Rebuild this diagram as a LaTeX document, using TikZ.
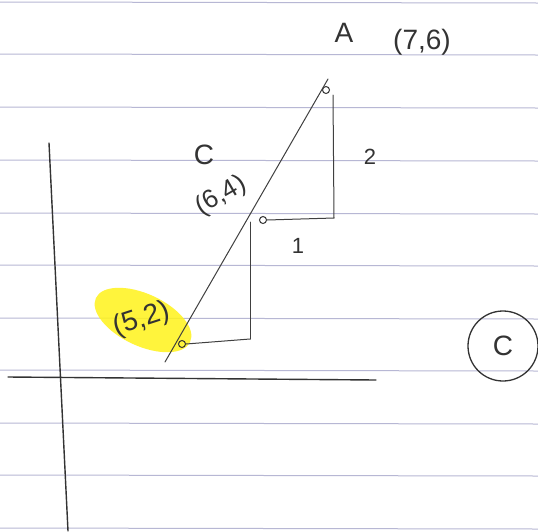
\documentclass[tikz,border=0pt]{standalone}
\usepackage{fontspec}
\setmainfont{Liberation Sans}
\begin{document}
\begin{tikzpicture}[x=1pt,y=-1pt,
  rule/.style={draw=blue!25!gray!45, line width=1pt},
  pen/.style={draw=black!75, line width=1pt, line cap=round},
  axis/.style={draw=black!80, line width=1.4pt, line cap=round},
  dot/.style={circle, draw=black!80, line width=1pt, inner sep=0pt, minimum size=7pt},
  hand/.style={font=\fontsize{28}{30}\selectfont, text=black!80, inner sep=0pt}]
\useasboundingbox (0,0) rectangle (538,531);
\fill[white] (0,0) rectangle (538,531);
% ruled paper
\foreach \y in {2,54,107,160,213,265,318,370,423,475,528}
  \draw[rule] (0,\y) -- (538,\y+1);
% highlight
\fill[yellow!90!white, opacity=0.85, rotate around={-25:(143,320)}] (143,320) ellipse (52 and 26);
% axes
\coordinate (yt) at (49,143);
\coordinate (yb) at (68,531);
\coordinate (xl) at (8,377);
\coordinate (xr) at (376,380);
\draw[axis] (yt) -- (yb);
\draw[axis] (xl) -- (xr);
% points
\node[dot] (P) at (182,344) {};
\node[dot] (C) at (263,220) {};
\node[dot] (A) at (326,90) {};
\coordinate (hl) at (165,362);
\coordinate (ht) at (328,79);
\draw[pen] (hl) -- (ht);
% upper triangle
\coordinate (ur) at (334,218);
\coordinate (ut) at (333,95);
\draw[pen] (C.east) -- (ur) -- (ut);
% lower triangle
\coordinate (lt) at (250,222);
\coordinate (lc) at (250,339);
\draw[pen] (lt) -- (lc);
\draw[pen] (P.east) -- (lc);
% labels
\node[hand] (la) at (344,33) {A};
\node[hand] (lac) at (422,42) {(7,6)};
\node[hand] (lc1) at (204,155) {C};
\node[hand, rotate=30, font=\fontsize{26}{28}\selectfont] (lc2) at (221,196) {(6,4)};
\node[hand, font=\fontsize{22}{24}\selectfont] (l2) at (370,157) {2};
\node[hand, font=\fontsize{22}{24}\selectfont] (l1) at (298,246) {1};
\node[hand, rotate=18] (lp) at (142,320) {(5,2)};
% circled C
\node[circle, draw=black!80, line width=1.3pt, minimum size=70pt, inner sep=0pt, hand] (cc) at (503,346) {C};
\end{tikzpicture}
\end{document}
